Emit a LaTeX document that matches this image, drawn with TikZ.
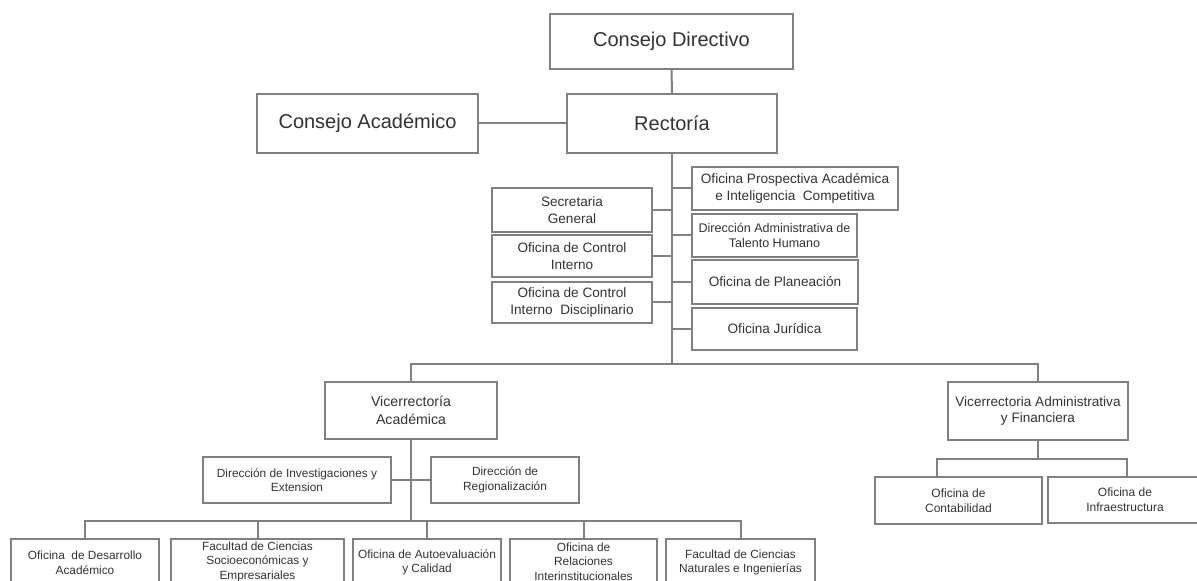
\documentclass[tikz,border=0pt]{standalone}
\usepackage{fontspec}
\setmainfont{Liberation Sans}
\definecolor{ln}{RGB}{128,128,128}
\definecolor{tx}{RGB}{50,50,50}
% \bx{name}{x1}{y1}{x2}{y2}{style}{text}
\newcommand\bx[7]{\node[box,#6,minimum width={(#4-#2)*0.75pt},minimum height={(#5-#3)*0.75pt}] (#1) at ({(#2+#4)/2},{(#3+#5)/2}) {#7};}
\begin{document}
\begin{tikzpicture}[x=0.75pt,y=-0.75pt,
  box/.style={draw=ln, line width=1.7pt, inner sep=0pt, align=center, text=tx, anchor=center},
  con/.style={draw=ln, line width=1.5pt},
  fTop/.style={font=\fontsize{15}{18}\selectfont},
  fMid/.style={font=\fontsize{10.2}{12.4}\selectfont},
  fVic/.style={font=\fontsize{10.6}{13}\selectfont},
  fSmall/.style={font=\fontsize{8.9}{10.9}\selectfont}]
\useasboundingbox (0,0) rectangle (1197,581);
\clip (0,0) rectangle (1197,581);
% top level
\bx{cd}{550}{14}{793}{69}{fTop}{Consejo Directivo}
\bx{ca}{257}{94}{478}{153}{fTop}{Consejo Académico}
\bx{rect}{567}{94}{777}{153}{fTop}{Rectoría}
% staff offices
\bx{opa}{692}{167}{898}{210}{fMid}{Oficina Prospectiva Académica\\e Inteligencia\ \ Competitiva}
\bx{sg}{492}{188}{652}{232}{fMid}{Secretaria\\General}
\bx{dath}{692}{214}{857}{257}{font=\fontsize{9.4}{11.6}\selectfont}{Dirección Administrativa de\\Talento Humano}
\bx{oci}{492}{235}{652}{277}{fMid}{Oficina de Control\\Interno}
\bx{op}{692}{260}{858}{304}{fMid}{Oficina de Planeación}
\bx{ocid}{492}{282}{652}{323}{fMid}{Oficina de Control\\Interno\ \ Disciplinario}
\bx{oj}{692}{308}{857}{350}{fMid}{Oficina Jurídica}
% vice-rectorates
\bx{va}{325}{382}{497}{439}{fVic}{Vicerrectoría\\Académica}
\bx{vaf}{948}{382}{1128}{440}{fMid}{Vicerrectoria Administrativa\\y Financiera}
\bx{di}{203}{457}{391}{503}{fSmall}{Dirección de Investigaciones y\\Extension}
\bx{dr}{431}{457}{579}{503}{fSmall}{Dirección de\\Regionalización}
\bx{cont}{875}{477}{1042}{524}{font=\fontsize{9}{11.2}\selectfont}{Oficina de\\Contabilidad}
\bx{infra}{1048}{477}{1202}{523}{font=\fontsize{9}{11.2}\selectfont}{Oficina de\\Infraestructura}
% bottom row
\bx{oda}{11}{539}{159}{586}{fSmall}{Oficina\ \ de Desarrollo\\Académico}
\bx{fcse}{171}{539}{344}{584}{fSmall}{Facultad de Ciencias\\Socioeconómicas y\\Empresariales}
\bx{oac}{353}{539}{501}{586}{fSmall}{Oficina de Autoevaluación\\y Calidad}
\bx{ori}{510}{539}{657}{584}{fSmall}{Oficina de\\Relaciones\\Interinstitucionales}
\bx{fcni}{666}{539}{815}{586}{fSmall}{Facultad de Ciencias\\Naturales e Ingenierías}
% junction coordinates
\coordinate (bar) at (672,364);
\coordinate (vab) at (411,521);
\coordinate (cst) at (937,459);
\coordinate (ist) at (1127,459);
% connectors
\draw[con] (cd.south) -- (rect.north);
\draw[con] (ca.east) -- (rect.west);
\draw[con] (rect.south) -- (bar);
\foreach \n in {sg,oci,ocid} \draw[con] (\n.east) -- (\n.east -| bar);
\foreach \n in {opa,dath,op,oj} \draw[con] (\n.west) -- (\n.west -| bar);
\draw[con] (va.north) |- (bar) -| (vaf.north);
\draw[con] (va.south) -- (vab);
\draw[con] (di.east) -- (di.east -| vab);
\draw[con] (dr.west) -- (dr.west -| vab);
\draw[con] (oda.north) |- (vab) -| (fcni.north);
\foreach \n in {fcse,oac,ori} \draw[con] (\n.north) -- (\n.north |- vab);
\draw[con] (vaf.south) -- (vaf.south |- cst);
\draw[con] (cst |- cont.north) -- (cst) -- (ist) -- (ist |- infra.north);
\end{tikzpicture}
\end{document}
